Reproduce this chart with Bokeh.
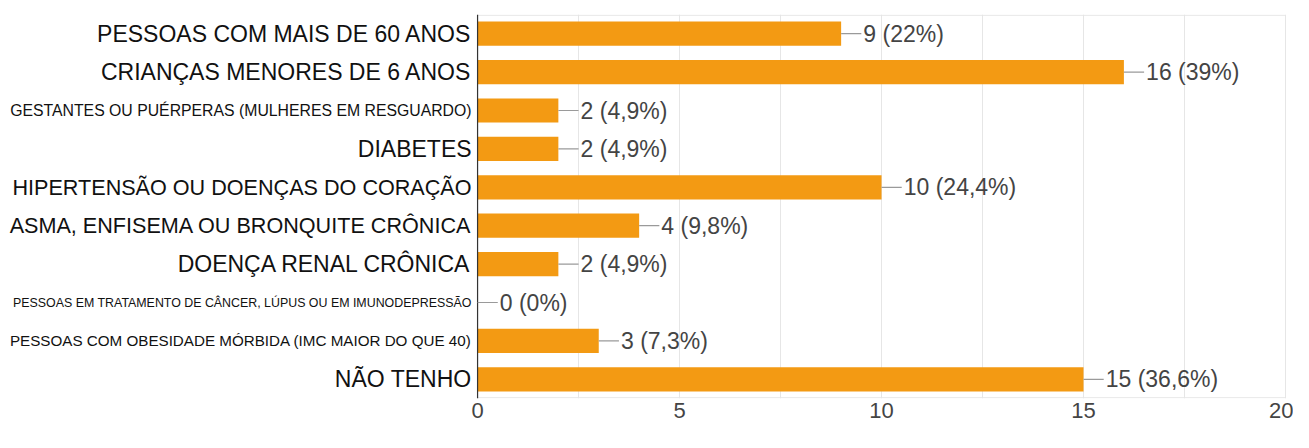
from bokeh.plotting import figure
from bokeh.models import Range1d, FixedTicker, ColumnDataSource
from bokeh.core.properties import value
from bokeh.embed import file_html
from bokeh.resources import INLINE

categories = [
    "PESSOAS COM MAIS DE 60 ANOS",
    "CRIANÇAS MENORES DE 6 ANOS",
    "GESTANTES OU PUÉRPERAS (MULHERES EM RESGUARDO)",
    "DIABETES",
    "HIPERTENSÃO OU DOENÇAS DO CORAÇÃO",
    "ASMA, ENFISEMA OU BRONQUITE CRÔNICA",
    "DOENÇA RENAL CRÔNICA",
    "PESSOAS EM TRATAMENTO DE CÂNCER, LÚPUS OU EM IMUNODEPRESSÃO",
    "PESSOAS COM OBESIDADE MÓRBIDA (IMC MAIOR DO QUE 40)",
    "NÃO TENHO",
]
counts = [9, 16, 2, 2, 10, 4, 2, 0, 3, 15]
percents = ["22%", "39%", "4,9%", "4,9%", "24,4%", "9,8%", "4,9%", "0%", "7,3%", "36,6%"]
x_ticks = [0, 5, 10, 15, 20]

# label styling (not data)
label_sizes = ["23px", "23px", "15.8px", "23px", "21.6px", "21.6px", "23px", "12.4px", "15.2px", "23px"]

ys = [i + 0.5 for i in range(len(categories))]
value_texts = [f"{c} ({pc})" for c, pc in zip(counts, percents)]

src = ColumnDataSource(dict(
    y=ys, v=counts, lead_end=[c + 0.5 for c in counts],
    cat=categories, vt=value_texts, size=label_sizes,
))

p = figure(width=1293, height=432,
           x_range=Range1d(-11.81, 20.05), y_range=Range1d(10, 0),
           output_backend="svg", toolbar_location=None,
           y_axis_location=None,
           min_border_left=0, min_border_right=6, min_border_top=14, min_border_bottom=34)
p.outline_line_color = None
p.background_fill_color = "white"
p.ygrid.visible = False
p.xgrid.ticker = FixedTicker(ticks=[2.5, 5, 7.5, 10, 12.5, 15, 17.5, 20])
p.xgrid.grid_line_color = "#e6e6e6"
p.xgrid.grid_line_width = 1

ax = p.xaxis[0]
ax.ticker = FixedTicker(ticks=x_ticks)
ax.axis_line_color = None
ax.major_tick_line_color = None
ax.minor_tick_line_color = None
ax.major_tick_out = 0
ax.major_tick_in = 0
ax.major_label_text_font = "Liberation Sans"
ax.major_label_text_font_size = "22px"
ax.major_label_text_color = "#444444"
ax.major_label_standoff = 4

# plot-area borders
p.segment(x0=[0, 0], x1=[20, 20], y0=[0.02, 9.98], y1=[0.02, 9.98], line_color="#e6e6e6", line_width=1)

p.hbar(y="y", left=0, right="v", height=0.63, source=src,
       fill_color="#F39A13", line_color=None)

# left axis line
p.segment(x0=[0], x1=[0], y0=[0], y1=[10], line_color="#333333", line_width=1.2)

# leader lines
p.segment(x0="v", x1="lead_end", y0="y", y1="y", source=src, line_color="#9a9a9a", line_width=1.2)

p.text(x="lead_end", y="y", text="vt", source=src, x_offset=2,
       text_baseline="middle", text_align="left",
       text_font=value("Liberation Sans"), text_font_size="23px", text_color="#444444")

p.text(x=0, y="y", text="cat", source=src, x_offset=-6,
       text_baseline="middle", text_align="right",
       text_font=value("Liberation Sans"), text_font_size="size", text_color="#111111")

open("out.html", "w").write(file_html(p, INLINE))
